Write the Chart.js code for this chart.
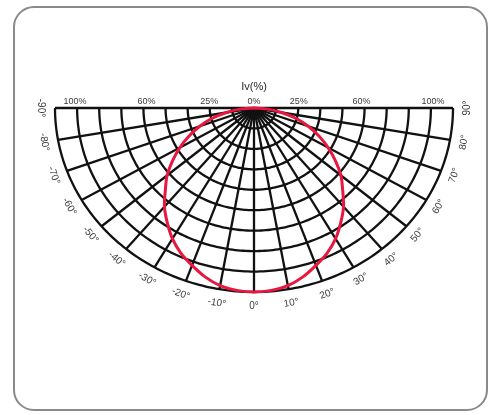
<!DOCTYPE html>
<html>
<head>
<meta charset="utf-8">
<script src="https://cdn.jsdelivr.net/npm/chart.js@4/dist/chart.umd.min.js"></script>
<style>
  html, body { margin: 0; padding: 0; background: #ffffff; }
  #wrap { width: 492px; height: 415px; }
</style>
</head>
<body>
<div id="wrap"><canvas id="c" width="492" height="415"></canvas></div>
<script>
// Relative luminous intensity (%) against emission angle, symmetric about 0°
const angleDeg     = [0, 5, 10, 15, 20, 25, 30, 35, 40, 45, 50, 55, 60, 65, 70, 75, 80, 85, 90];
const intensityPct = [100, 99.5, 98, 95, 91, 87, 82, 76, 70, 63, 57, 50, 43, 36, 29, 22, 14, 7, 0];

// Angle scale around the rim and intensity labels along the top edge
const angleTicks = [-90, -80, -70, -60, -50, -40, -30, -20, -10, 0, 10, 20, 30, 40, 50, 60, 70, 80, 90];
const pctTickValues = [100, 60, 25, 0];
const pctTickLabels = ['100%', '60%', '25%', '0%'];
const ringCount = 9;
const axisTitle = 'Iv(%)';

const DEG = Math.PI / 180;

// polar (angle from straight down, relative intensity) -> x/y data units
function polar(aDeg, r) {
  return { x: r * Math.sin(aDeg * DEG), y: -r * Math.cos(aDeg * DEG) };
}

// full curve from -90° to +90°
const curve = [];
for (let i = angleDeg.length - 1; i >= 0; i--) curve.push(polar(-angleDeg[i], intensityPct[i] / 100));
for (let i = 1; i < angleDeg.length; i++) curve.push(polar(angleDeg[i], intensityPct[i] / 100));

function roundRectPath(ctx, x, y, w, h, r) {
  ctx.beginPath();
  ctx.moveTo(x + r, y);
  ctx.lineTo(x + w - r, y);
  ctx.arcTo(x + w, y, x + w, y + r, r);
  ctx.lineTo(x + w, y + h - r);
  ctx.arcTo(x + w, y + h, x + w - r, y + h, r);
  ctx.lineTo(x + r, y + h);
  ctx.arcTo(x, y + h, x, y + h - r, r);
  ctx.lineTo(x, y + r);
  ctx.arcTo(x, y, x + r, y, r);
  ctx.closePath();
}

const frame = {
  id: 'frame',
  beforeDraw(chart) {
    const ctx = chart.ctx;
    ctx.save();
    ctx.fillStyle = '#ffffff';
    ctx.fillRect(0, 0, chart.width, chart.height);
    roundRectPath(ctx, 14, 7, 473, 403, 20);
    ctx.strokeStyle = '#8a8a8a';
    ctx.lineWidth = 2;
    ctx.stroke();
    ctx.restore();
  }
};

const polarGrid = {
  id: 'polarGrid',
  beforeDatasetsDraw(chart) {
    const ctx = chart.ctx;
    const xs = chart.scales.x, ys = chart.scales.y;
    const px = p => [xs.getPixelForValue(p.x), ys.getPixelForValue(p.y)];
    ctx.save();
    ctx.strokeStyle = '#111111';
    ctx.lineWidth = 2.3;
    ctx.lineJoin = 'round';
    // concentric rings
    for (let k = 1; k <= ringCount; k++) {
      const r = k / ringCount;
      ctx.beginPath();
      for (let a = -90; a <= 90; a += 1) {
        const [x, y] = px(polar(a, r));
        if (a === -90) ctx.moveTo(x, y); else ctx.lineTo(x, y);
      }
      ctx.stroke();
    }
    // radial lines
    for (const a of angleTicks) {
      if (Math.abs(a) === 90) continue;
      const [x0, y0] = px(polar(a, 0));
      const [x1, y1] = px(polar(a, 1));
      ctx.beginPath();
      ctx.moveTo(x0, y0);
      ctx.lineTo(x1, y1);
      ctx.stroke();
    }
    // top edge
    ctx.lineWidth = 2.5;
    ctx.beginPath();
    ctx.moveTo(xs.getPixelForValue(-1), ys.getPixelForValue(0));
    ctx.lineTo(xs.getPixelForValue(1), ys.getPixelForValue(0));
    ctx.stroke();
    ctx.restore();
  },
  afterDraw(chart) {
    const ctx = chart.ctx;
    const xs = chart.scales.x, ys = chart.scales.y;
    const cx = xs.getPixelForValue(0), cy = ys.getPixelForValue(0);
    ctx.save();
    ctx.fillStyle = '#3a3a3a';
    // angle labels around the rim, following the arc
    ctx.font = '10px "Liberation Sans", Arial, sans-serif';
    ctx.textAlign = 'center';
    ctx.textBaseline = 'middle';
    for (const a of angleTicks) {
      const p = polar(a, 1);
      const x = xs.getPixelForValue(p.x), y = ys.getPixelForValue(p.y);
      const dx = x - cx, dy = y - cy, len = Math.hypot(dx, dy);
      const lx = x + dx / len * 14, ly = y + dy / len * 14;
      ctx.save();
      ctx.translate(lx, ly);
      ctx.rotate(-a * DEG);
      ctx.fillText(a + '°', 0, 0);
      ctx.restore();
    }
    // intensity labels along the top edge
    ctx.font = '9px "Liberation Sans", Arial, sans-serif';
    ctx.textBaseline = 'bottom';
    const top = ys.getPixelForValue(0);
    pctTickValues.forEach((v, i) => {
      const r = v / 100 * 0.9;
      const sides = v === 0 ? [0] : [-1, 1];
      for (const s of sides) {
        ctx.fillText(pctTickLabels[i], xs.getPixelForValue(s * r), top - 2);
      }
    });
    // axis title
    ctx.font = '11px "Liberation Sans", Arial, sans-serif';
    ctx.fillStyle = '#2a2a2a';
    ctx.fillText(axisTitle, cx, top - 16);
    ctx.restore();
  }
};

new Chart(document.getElementById('c'), {
  type: 'scatter',
  data: {
    datasets: [{
      data: curve,
      showLine: true,
      borderColor: '#e8173f',
      borderWidth: 3,
      pointRadius: 0,
      tension: 0.3,
      clip: false
    }]
  },
  options: {
    responsive: false,
    devicePixelRatio: 1,
    animation: false,
    layout: { padding: { left: 55, right: 39, top: 108, bottom: 123 } },
    plugins: { legend: { display: false }, tooltip: { enabled: false } },
    scales: {
      x: { type: 'linear', min: -1, max: 1, display: false },
      y: { type: 'linear', min: -1, max: 0, display: false }
    }
  },
  plugins: [frame, polarGrid]
});
</script>
</body>
</html>
